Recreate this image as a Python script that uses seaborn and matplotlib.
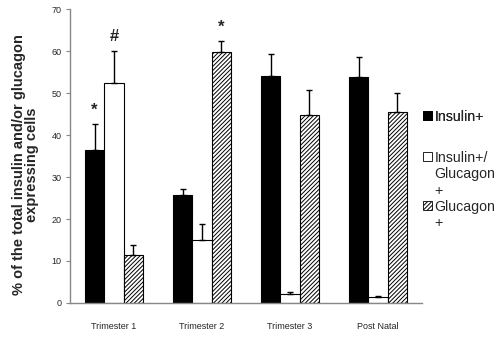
import matplotlib.pyplot as plt
import numpy as np
import pandas as pd
import seaborn as sns

# values
stages = ["Trimester 1", "Trimester 2", "Trimester 3", "Post Natal"]
cell_types = ["Insulin+", "Insulin+/Glucagon+", "Glucagon+"]

insulin = [36.4, 25.7, 54.0, 53.9]
insulin_err = [6.2, 1.5, 5.3, 4.7]
double = [52.3, 15.0, 2.1, 1.5]
double_err = [7.8, 3.9, 0.6, 0.2]
glucagon = [11.5, 59.8, 44.8, 45.6]
glucagon_err = [2.2, 2.6, 5.9, 4.4]

# significance marks: (stage, cell type, symbol)
marks = [("Trimester 1", "Insulin+", "*"),
         ("Trimester 1", "Insulin+/Glucagon+", "#"),
         ("Trimester 2", "Glucagon+", "*")]

df = pd.DataFrame({
    "stage": stages * 3,
    "type": np.repeat(cell_types, len(stages)),
    "value": insulin + double + glucagon,
    "err": insulin_err + double_err + glucagon_err,
})

sns.set_style("white")
plt.rcParams["font.family"] = ["Liberation Sans", "DejaVu Sans"]
plt.rcParams["hatch.color"] = "#444444"
plt.rcParams["hatch.linewidth"] = 0.7

fig = plt.figure(figsize=(5, 3.37), dpi=100)
ax = fig.add_axes([0.14, 0.101, 0.704, 0.872])

sns.barplot(data=df, x="stage", y="value", hue="type", order=stages,
            hue_order=cell_types, palette=["black", "white", "white"],
            width=0.66, gap=0, errorbar=None, edgecolor="black",
            linewidth=0.8, legend=False, ax=ax)

hatch = "////////"

# patches come in hue order, then stage order
for i, ctype in enumerate(cell_types):
    for j, stage in enumerate(stages):
        bar = ax.patches[i * len(stages) + j]
        if ctype == "Glucagon+":
            bar.set_hatch(hatch)
        row = df[(df["stage"] == stage) & (df["type"] == ctype)].iloc[0]
        cx = bar.get_x() + bar.get_width() / 2
        ax.errorbar(cx, row["value"], yerr=[[0], [row["err"]]], fmt="none",
                    ecolor="black", elinewidth=1, capsize=2, capthick=1)
        for m_stage, m_type, sym in marks:
            if m_stage == stage and m_type == ctype:
                ax.text(cx, row["value"] + row["err"] + 1.5, sym,
                        ha="center", va="bottom", fontsize=12, fontweight="bold")

ax.set_ylim(0, 70)
ax.set_xlim(-0.5, len(stages) - 0.5)
ax.set_yticks(range(0, 71, 10))
ax.set_xticks(range(len(stages)))
ax.set_xticklabels(stages, fontsize=6.5)
ax.tick_params(axis="y", labelsize=6.5, length=3, color="#888888", pad=3)
ax.tick_params(axis="x", length=0, pad=14)
# category separator ticks on the x axis (Excel style)
ax.set_xticks(np.arange(-0.5, len(stages)), minor=True)
ax.tick_params(axis="x", which="minor", length=3, color="#888888")
ax.tick_params(left=True, bottom=True)

for side in ["top", "right"]:
    ax.spines[side].set_visible(False)
for side in ["left", "bottom"]:
    ax.spines[side].set_color("#888888")
    ax.spines[side].set_linewidth(1)

ax.set_xlabel("")
ax.set_ylabel("% of the total insulin and/or glucagon\nexpressing cells",
              fontsize=10.5, fontweight="bold", linespacing=0.95)
ax.yaxis.set_label_coords(-0.088, 0.47)

# legend: Excel-style, handle next to the first line of each wrapped label
def box(**kw):
    return plt.Rectangle((0, 0), 1, 1, edgecolor="black", lw=0.6, **kw)

blank = plt.Rectangle((0, 0), 1, 1, visible=False)
leg_kw = dict(loc="upper left", frameon=False, fontsize=10.2, handlelength=0.6,
              handleheight=0.6, handletextpad=0.2, borderpad=0, borderaxespad=0)
leg1 = fig.legend([box(facecolor="black")], ["Insulin+"],
                  bbox_to_anchor=(0.846, 0.675), **leg_kw)
fig.legend([box(facecolor="white"), blank, blank, box(facecolor="white", hatch=hatch), blank],
           ["Insulin+/", "Glucagon", "+", "Glucagon", "+"],
           bbox_to_anchor=(0.846, 0.552), labelspacing=0.16, **leg_kw)
fig.add_artist(leg1)

fig.savefig("out.png", dpi=100)
